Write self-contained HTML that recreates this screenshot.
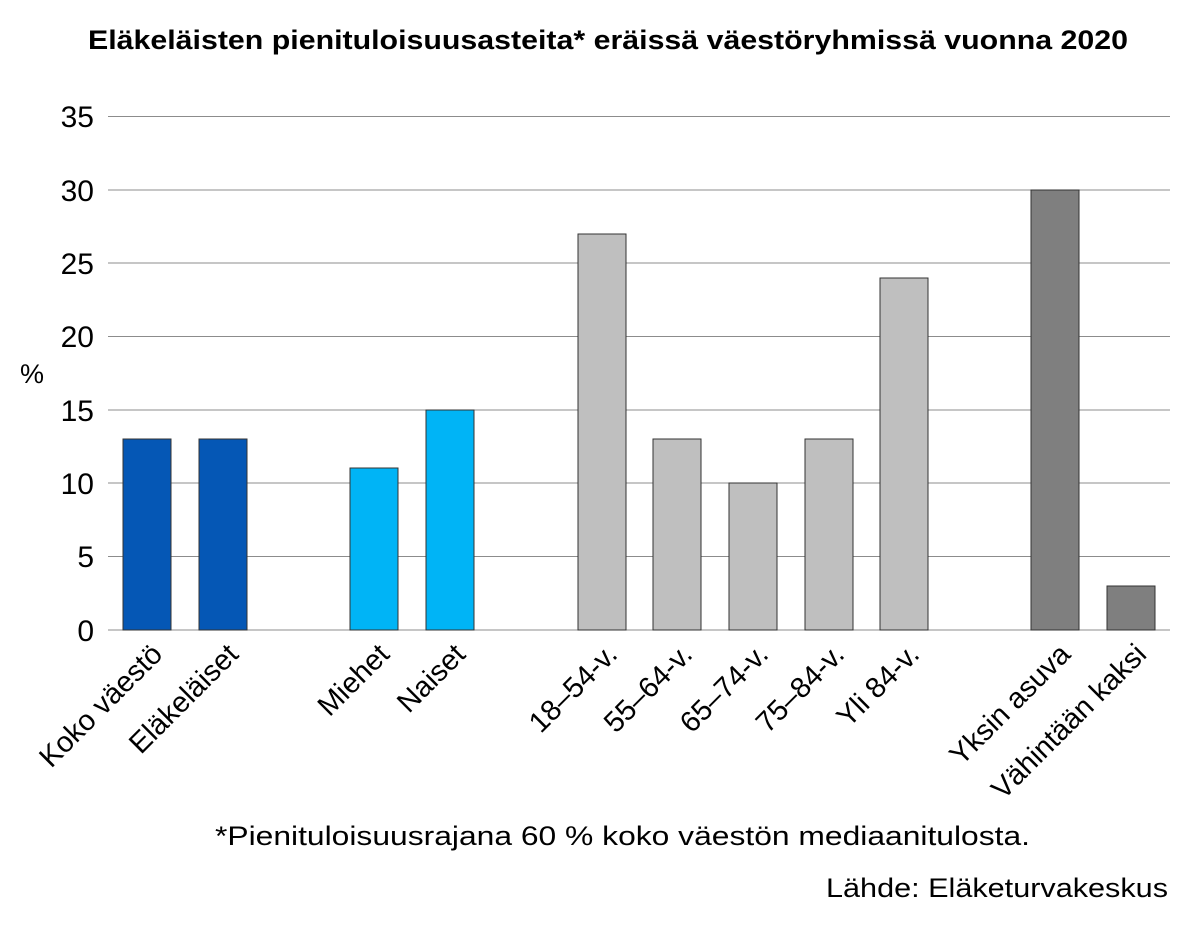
<!DOCTYPE html>
<html><head><meta charset="utf-8"><style>
body{margin:0;background:#fff;}
svg{display:block;font-family:"Liberation Sans",sans-serif;}
</style></head><body>
<svg width="1200" height="935" xmlns="http://www.w3.org/2000/svg">
<rect width="1200" height="935" fill="#fff"/>
<text x="88" y="49" font-size="27" font-weight="bold" fill="#000" textLength="1040" lengthAdjust="spacingAndGlyphs">Eläkeläisten pienituloisuusasteita* eräissä väestöryhmissä vuonna 2020</text>
<g stroke="#8c8c8c" stroke-width="1">
<line x1="108" y1="116.5" x2="1170" y2="116.5"/>
<line x1="108" y1="190" x2="1170" y2="190"/>
<line x1="108" y1="263" x2="1170" y2="263"/>
<line x1="108" y1="336.5" x2="1170" y2="336.5"/>
<line x1="108" y1="410" x2="1170" y2="410"/>
<line x1="108" y1="483" x2="1170" y2="483"/>
<line x1="108" y1="556.5" x2="1170" y2="556.5"/>
<line x1="108" y1="630" x2="1170" y2="630"/>
</g>
<g font-size="30" text-anchor="end" fill="#000">
<text x="94" y="127">35</text><text x="94" y="201">30</text><text x="94" y="274">25</text>
<text x="94" y="347">20</text><text x="94" y="421">15</text><text x="94" y="494">10</text>
<text x="94" y="567">5</text><text x="94" y="641">0</text>
</g>
<text x="20" y="383" font-size="27">%</text>
<g stroke="#333" stroke-width="1">
<rect x="123" y="439" width="48" height="191" fill="#0557b5"/>
<rect x="199" y="439" width="48" height="191" fill="#0557b5"/>
<rect x="350" y="468" width="48" height="162" fill="#00b4f6"/>
<rect x="426" y="410" width="48" height="220" fill="#00b4f6"/>
<rect x="578" y="234" width="48" height="396" fill="#bfbfbf"/>
<rect x="653" y="439" width="48" height="191" fill="#bfbfbf"/>
<rect x="729" y="483" width="48" height="147" fill="#bfbfbf"/>
<rect x="805" y="439" width="48" height="191" fill="#bfbfbf"/>
<rect x="880" y="278" width="48" height="352" fill="#bfbfbf"/>
<rect x="1031" y="190" width="48" height="440" fill="#7f7f7f"/>
<rect x="1107" y="586" width="48" height="44" fill="#7f7f7f"/>
</g>
<g font-size="29" text-anchor="end" fill="#000">
<text transform="translate(164,656) rotate(-45)">Koko väestö</text>
<text transform="translate(240,656) rotate(-45)">Eläkeläiset</text>
<text transform="translate(391,656) rotate(-45)">Miehet</text>
<text transform="translate(467,656) rotate(-45)">Naiset</text>
<text transform="translate(619,656) rotate(-45)">18–54-v.</text>
<text transform="translate(694,656) rotate(-45)">55–64-v.</text>
<text transform="translate(770,656) rotate(-45)">65–74-v.</text>
<text transform="translate(846,656) rotate(-45)">75–84-v.</text>
<text transform="translate(921,656) rotate(-45)">Yli 84-v.</text>
<text transform="translate(1072,656) rotate(-45)">Yksin asuva</text>
<text transform="translate(1148,656) rotate(-45)">Vähintään kaksi</text>
</g>
<text x="215" y="845" font-size="27" textLength="815" lengthAdjust="spacingAndGlyphs">*Pienituloisuusrajana 60 % koko väestön mediaanitulosta.</text>
<text x="826" y="897" font-size="27" textLength="342" lengthAdjust="spacingAndGlyphs">Lähde: Eläketurvakeskus</text>
</svg>
</body></html>
